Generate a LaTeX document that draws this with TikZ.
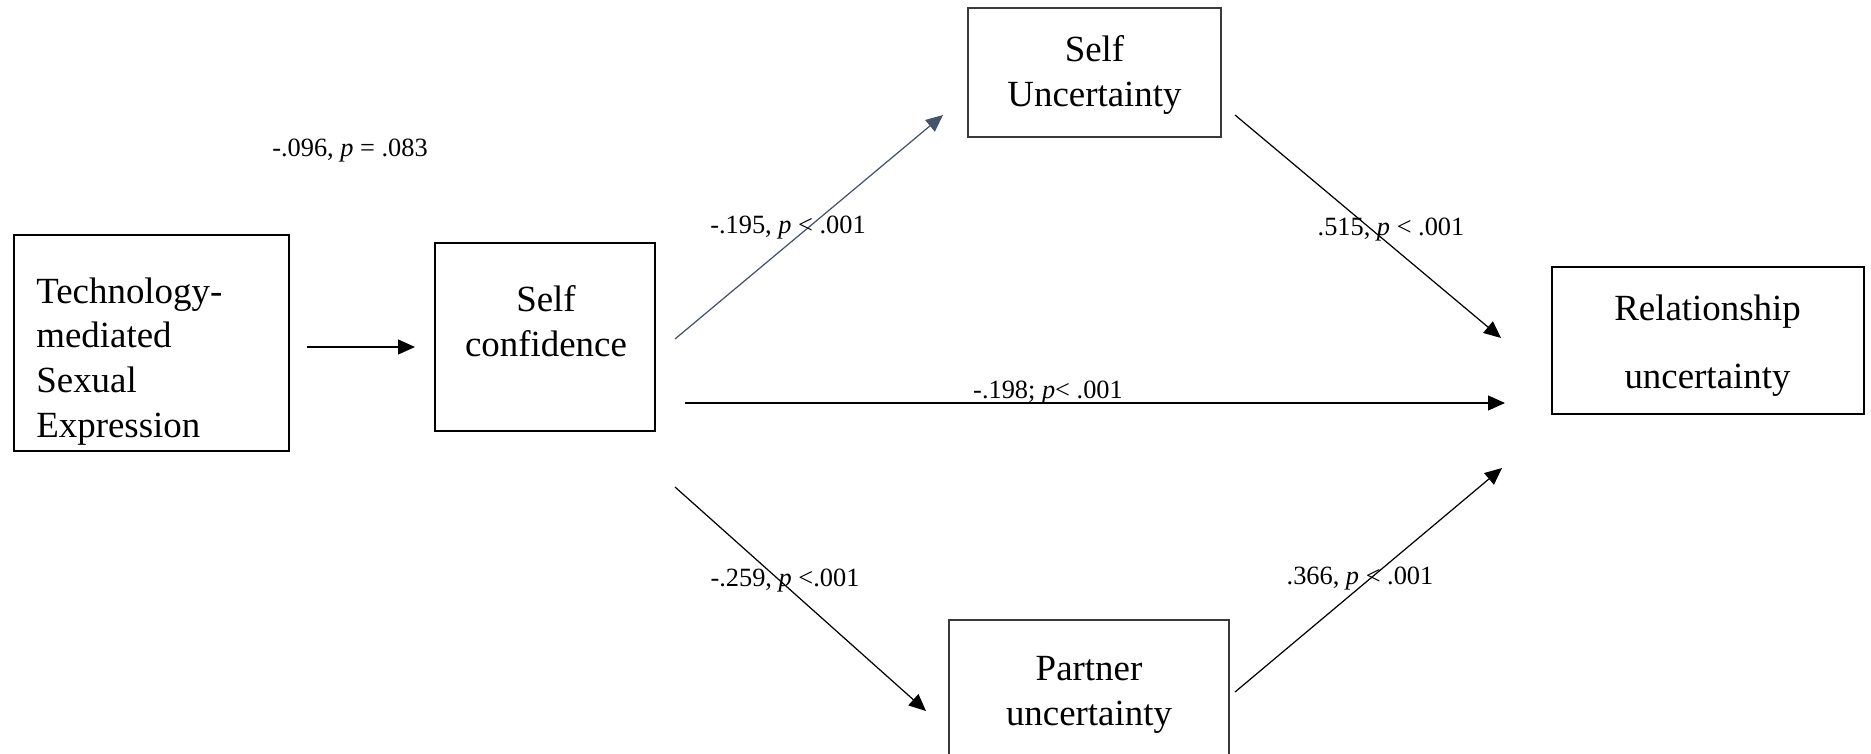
\documentclass[tikz,border=0pt]{standalone}
\usepackage{fontspec}
\setmainfont{Liberation Serif}
\usetikzlibrary{arrows.meta}
\definecolor{linkBlue}{HTML}{44546A}
\definecolor{boxGray}{HTML}{3A3A3A}
\tikzset{
    box/.style={draw, line width=1.1pt, inner sep=0pt},
    thinbox/.style={draw=boxGray, line width=0.6pt, inner sep=0pt},
    boxtext/.style={font=\fontsize{21}{25.5}\selectfont, align=center, inner sep=0pt},
    coef/.style={font=\fontsize{15}{18}\selectfont, inner sep=0pt},
    link/.style={line width=0.7pt, -{Triangle[length=0.34cm, width=0.3cm]}}
}

\begin{document}
\begin{tikzpicture}
            \clip (0,0) rectangle (37.42,15.06);

            \node[box, minimum width=5.5cm, minimum height=4.32cm] (tech) at (3.03,8.2) {};
            \node[boxtext, align=left, anchor=west] (techtxt) at (0.72,7.83) {Technology-\\mediated\\Sexual\\Expression};
            \node[box, minimum width=4.4cm, minimum height=3.76cm] (conf) at (10.9,8.32) {};
            \node[boxtext] (conftxt) at (10.92,8.64) {Self\\confidence};
            \node[thinbox, minimum width=5.06cm, minimum height=2.58cm] (selfunc) at (21.89,13.61) {};
            \node[boxtext] (selfunctxt) at (21.89,13.56) {Self\\Uncertainty};
            \node[thinbox, minimum width=5.6cm, minimum height=2.76cm] (partunc) at (21.78,1.28) {};
            \node[boxtext] (partunctxt) at (21.78,1.16) {Partner\\uncertainty};
            \node[box, minimum width=6.24cm, minimum height=2.94cm] (relunc) at (34.16,8.25) {};
            \node[boxtext, font=\fontsize{21}{38.5}\selectfont] (relunctxt) at (34.15,8.14) {Relationship\\uncertainty};

            \coordinate (techout) at (6.14,8.12);
            \coordinate (confin) at (8.30,8.12);
            \coordinate (confup) at (13.5,8.28);
            \coordinate (selfin) at (18.86,12.76);
            \coordinate (selfout) at (24.7,12.76);
            \coordinate (relup) at (30.02,8.3);
            \coordinate (confmid) at (13.7,7.0);
            \coordinate (relmid) at (30.1,7.0);
            \coordinate (confdown) at (13.5,5.32);
            \coordinate (partin) at (18.52,0.84);
            \coordinate (partout) at (24.7,1.22);
            \coordinate (reldown) at (30.04,5.7);

            \draw[link] (techout) -- (confin);
            \draw[link, draw=linkBlue, fill=linkBlue] (confup) -- (selfin);
            \draw[link] (selfout) -- (relup);
            \draw[link] (confmid) -- (relmid);
            \draw[link] (confdown) -- (partin);
            \draw[link] (partout) -- (reldown);

            \node[coef] (ctotal) at (7.0,12.05) {-.096, \textit{p} = .083};
            \node[coef] (cself) at (15.76,10.51) {-.195, \textit{p} < .001};
            \node[coef] (crelself) at (27.82,10.47) {.515, \textit{p} < .001};
            \node[coef] (cdirect) at (20.96,7.2) {-.198; \textit{p}< .001};
            \node[coef] (cpart) at (15.7,3.45) {-.259, \textit{p} <.001};
            \node[coef] (crelpart) at (27.2,3.49) {.366, \textit{p} < .001};
\end{tikzpicture}
\end{document}
